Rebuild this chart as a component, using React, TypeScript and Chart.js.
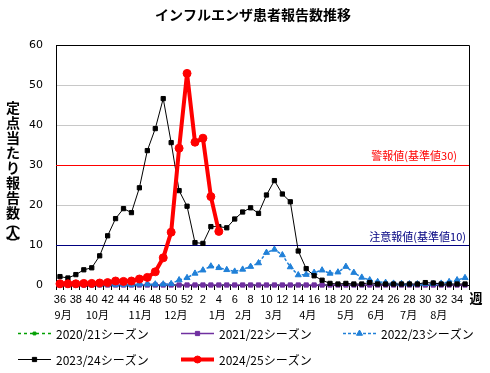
import React, { useEffect, useRef } from "react";
import { Chart, registerables } from "chart.js";

Chart.register(...registerables);

const TITLE = "インフルエンザ患者報告数推移";
const Y_TITLE = ["定", "点", "当", "た", "り", "報", "告", "数", "︵", "人", "︶"];
const X_UNIT = "週";

const WEEKS = [
  "36", "37", "38", "39", "40", "41", "42", "43", "44", "45", "46", "47", "48", "49", "50", "51", "52",
  "1", "2", "3", "4", "5", "6", "7", "8", "9", "10", "11", "12", "13", "14", "15", "16", "17", "18",
  "19", "20", "21", "22", "23", "24", "25", "26", "27", "28", "29", "30", "31", "32", "33", "34", "35",
];

const MONTHS = ["9月", "10月", "11月", "12月", "1月", "2月", "3月", "4月", "5月", "6月", "7月", "8月"];
// month label anchor, as a week index along the category axis
const MONTH_AT = [0.4, 4.7, 10.1, 14.6, 19.8, 23.1, 26.9, 31.2, 36.0, 39.8, 43.9, 47.7];

const S2020 = [
  0, 0, 0, 0, 0, 0, 0, 0, 0, 0, 0, 0, 0, 0, 0, 0, 0,
  0, 0, 0, 0, 0, 0, 0, 0, 0, 0, 0, 0, 0, 0, 0, 0, 0, 0,
  0, 0, 0, 0, 0, 0, 0, 0, 0, 0, 0, 0, 0, 0, 0, 0, 0,
];
const S2021 = [
  0, 0, 0, 0, 0, 0, 0, 0, 0, 0, 0, 0, 0, 0, 0, 0, 0,
  0, 0, 0, 0, 0, 0, 0, 0, 0, 0, 0, 0, 0, 0, 0, 0, 0, 0,
  0, 0, 0, 0, 0, 0, 0, 0, 0, 0, 0, 0, 0, 0, 0, 0, 0,
];
const S2022 = [
  0.1, 0.1, 0.1, 0.1, 0.1, 0.1, 0.1, 0.1, 0.1, 0.1, 0.2, 0.2, 0.2, 0.2, 0.3, 1.25, 1.8,
  2.9, 3.7, 4.7, 4.3, 3.8, 3.4, 3.9, 4.6, 5.5, 8.1, 8.9, 7.5, 4.5, 2.5, 2.6, 3.1, 3.7, 2.9,
  3.2, 4.6, 3.1, 1.9, 1.25, 0.8, 0.6, 0.4, 0.3, 0.25, 0.25, 0.3, 0.3, 0.4, 0.8, 1.25, 1.8,
];
const S2023 = [
  2.1, 1.75, 2.6, 3.8, 4.3, 7.3, 12.3, 16.6, 19.1, 18.1, 24.3, 33.6, 39.1, 46.6, 35.6, 23.6, 19.7,
  10.6, 10.4, 14.6, 14.6, 14.3, 16.5, 18.25, 19.3, 17.9, 22.5, 26.1, 22.75, 20.8, 8.5, 4.1, 2.3, 1.2, 0.4,
  0.25, 0.4, 0.25, 0.25, 0.6, 0.25, 0.25, 0.25, 0.25, 0.25, 0.25, 0.6, 0.5, 0.25, 0.25, 0.25, 0.25,
];
const S2024 = [
  0.3, 0.3, 0.3, 0.4, 0.4, 0.5, 0.6, 1.0, 0.9, 1.0, 1.5, 1.9, 3.3, 6.8, 13.2, 34.2, 52.9,
  35.7, 36.7, 22.1, 13.4, null, null, null, null, null, null, null, null, null, null, null, null, null, null,
  null, null, null, null, null, null, null, null, null, null, null, null, null, null, null, null, null,
];

const SERIES_LABELS = ["2020/21シーズン", "2021/22シーズン", "2022/23シーズン", "2023/24シーズン", "2024/25シーズン"];

const ALERT_LEVEL = 30;
const ALERT_LABEL = "警報値(基準値30)";
const WARN_LEVEL = 10;
const WARN_LABEL = "注意報値(基準値10)";

const Y_MIN = 0;
const Y_MAX = 60;
const Y_STEP = 10;

const FONT_JP = '"Noto Sans CJK JP", "Noto Sans", sans-serif';
const FONT_NUM = '"Liberation Sans", Arial, sans-serif';
const FONT_YNUM = '"DejaVu Sans", sans-serif';

const STYLES = [
  { color: "#00a000", width: 1.5, dash: [3, 3], point: "rect", radius: 2, order: 5 },
  { color: "#7030a0", width: 1.5, dash: [], point: "rect", radius: 3, order: 4 },
  { color: "#2080d8", width: 1.5, dash: [3, 2], point: "triangle", radius: 3.5, order: 3 },
  { color: "#000000", width: 1, dash: [], point: "rect", radius: 3, order: 2 },
  { color: "#ff0000", width: 4, dash: [], point: "circle", radius: 4, order: 1 },
];

function drawMarker(ctx: CanvasRenderingContext2D, kind: string, x: number, y: number, r: number, color: string) {
  ctx.save();
  ctx.setLineDash([]);
  ctx.fillStyle = color;
  ctx.strokeStyle = color;
  ctx.lineWidth = 1;
  ctx.beginPath();
  if (kind === "rect") {
    const s = Math.SQRT1_2 * r;
    ctx.rect(x - s, y - s, 2 * s, 2 * s);
  } else if (kind === "triangle") {
    ctx.moveTo(x, y - r);
    ctx.lineTo(x + r * 0.866, y + r * 0.5);
    ctx.lineTo(x - r * 0.866, y + r * 0.5);
    ctx.closePath();
  } else {
    ctx.arc(x, y, r, 0, Math.PI * 2);
  }
  ctx.fill();
  ctx.stroke();
  ctx.restore();
}

const decorPlugin = {
  id: "decor",
  beforeDatasetsDraw(chart: any) {
    const { ctx, chartArea: a } = chart;
    const y = chart.scales.y;
    const lines = [
      { v: ALERT_LEVEL, color: "#ff0000", label: ALERT_LABEL, inset: 12, dy: -10 },
      { v: WARN_LEVEL, color: "#000080", label: WARN_LABEL, inset: 3, dy: -9 },
    ];
    ctx.save();
    for (const l of lines) {
      const py = Math.round(y.getPixelForValue(l.v)) + 0.5;
      ctx.strokeStyle = l.color;
      ctx.lineWidth = 1;
      ctx.beginPath();
      ctx.moveTo(a.left, py);
      ctx.lineTo(a.right, py);
      ctx.stroke();
      ctx.font = `11px ${FONT_JP}`;
      ctx.fillStyle = l.color;
      ctx.textAlign = "right";
      ctx.textBaseline = "middle";
      ctx.fillText(l.label, a.right - l.inset, py + l.dy);
    }
    // plot border top & right
    ctx.strokeStyle = "#000";
    ctx.lineWidth = 1;
    ctx.beginPath();
    ctx.moveTo(a.left, Math.round(a.top) + 0.5);
    ctx.lineTo(Math.round(a.right) + 0.5, Math.round(a.top) + 0.5);
    ctx.lineTo(Math.round(a.right) + 0.5, a.bottom);
    ctx.stroke();
    ctx.restore();
  },
  afterDraw(chart: any) {
    const { ctx } = chart;
    const x = chart.scales.x;
    ctx.save();
    // title
    ctx.fillStyle = "#000";
    ctx.font = `bold 14px ${FONT_JP}`;
    ctx.textAlign = "center";
    ctx.textBaseline = "middle";
    ctx.fillText(TITLE, 253, 15);
    // y title, stacked vertically
    ctx.font = `bold 14px ${FONT_JP}`;
    let cy = 108;
    Y_TITLE.forEach((ch, i) => {
      const isParen = ch === "︵" || ch === "︶";
      if (i > 0) cy += isParen || Y_TITLE[i - 1] === "︵" ? 10 : 15;
      ctx.fillText(ch, 13, cy);
    });
    // week unit
    ctx.font = `bold 13px ${FONT_JP}`;
    ctx.fillText(X_UNIT, 476, 298);
    // months
    ctx.font = `11px ${FONT_JP}`;
    MONTHS.forEach((m, i) => {
      ctx.fillText(m, x.getPixelForValue(MONTH_AT[i]), 315);
    });
    // legend
    const cols = [18, 181, 343];
    const rows = [333, 359];
    SERIES_LABELS.forEach((label, i) => {
      const st = STYLES[i];
      const lx = cols[i % 3];
      const ly = rows[Math.floor(i / 3)];
      ctx.save();
      ctx.strokeStyle = st.color;
      ctx.lineWidth = st.width;
      ctx.setLineDash(st.dash);
      ctx.beginPath();
      ctx.moveTo(lx, ly + 0.5);
      ctx.lineTo(lx + 33, ly + 0.5);
      ctx.stroke();
      ctx.restore();
      drawMarker(ctx, st.point, lx + 16.5, ly + 0.5, st.point === "circle" ? 3.5 : st.radius, st.color);
      ctx.fillStyle = "#000";
      ctx.font = `12px ${FONT_JP}`;
      ctx.textAlign = "left";
      ctx.textBaseline = "middle";
      ctx.fillText(label, lx + 38, ly + 1);
    });
    ctx.restore();
  },
};

export default function App() {
  const ref = useRef<HTMLCanvasElement>(null);
  useEffect(() => {
    if (!ref.current) return;
    const seriesData = [S2020, S2021, S2022, S2023, S2024];
    const chart = new Chart(ref.current, {
      type: "line",
      data: {
        labels: WEEKS,
        datasets: seriesData.map((d, i) => ({
          label: SERIES_LABELS[i],
          data: d,
          borderColor: STYLES[i].color,
          backgroundColor: STYLES[i].color,
          borderWidth: STYLES[i].width,
          borderDash: STYLES[i].dash,
          borderJoinStyle: "round",
          pointStyle: STYLES[i].point as any,
          pointRadius: STYLES[i].radius,
          pointHoverRadius: STYLES[i].radius,
          pointBorderWidth: 1,
          pointBorderColor: STYLES[i].color,
          pointBackgroundColor: STYLES[i].color,
          tension: 0,
          fill: false,
          clip: false as any,
          order: STYLES[i].order,
        })),
      },
      options: {
        animation: false,
        responsive: false,
        maintainAspectRatio: false,
        events: [],
        layout: { padding: { left: 0, top: 45, right: 21, bottom: 0 } },
        plugins: {
          legend: { display: false },
          tooltip: { enabled: false },
          title: { display: false },
        },
        scales: {
          x: {
            type: "category",
            offset: true,
            grid: {
              display: true,
              drawOnChartArea: false,
              drawTicks: true,
              tickLength: 5,
              color: "#000",
              offset: true,
            },
            border: { color: "#000", width: 1 },
            ticks: {
              autoSkip: false,
              maxRotation: 0,
              minRotation: 0,
              padding: 3,
              color: "#000",
              font: { family: FONT_NUM, size: 11 },
              callback: (_v: any, i: number) => (i % 2 === 0 ? WEEKS[i] : ""),
            },
            afterFit: (s: any) => {
              s.height = 88;
            },
          },
          y: {
            min: Y_MIN,
            max: Y_MAX,
            ticks: {
              stepSize: Y_STEP,
              padding: 13,
              color: "#000",
              font: { family: FONT_YNUM, size: 11 },
            },
            grid: {
              drawTicks: false,
              color: (c: any) => {
                const v = c.tick ? c.tick.value : 0;
                return v === 0 || v === WARN_LEVEL || v === ALERT_LEVEL || v === Y_MAX ? "rgba(0,0,0,0)" : "#c8c8c8";
              },
            },
            border: { color: "#000", width: 1 },
            afterFit: (s: any) => {
              s.width = 56;
            },
          },
        },
      },
      plugins: [decorPlugin],
    } as any);
    return () => chart.destroy();
  }, []);
  return (
    <div style={{ position: "absolute", left: 0, top: 0, width: 490, height: 373, background: "#fff" }}>
      <canvas ref={ref} width={490} height={373} style={{ width: 490, height: 373, display: "block" }} />
    </div>
  );
}
